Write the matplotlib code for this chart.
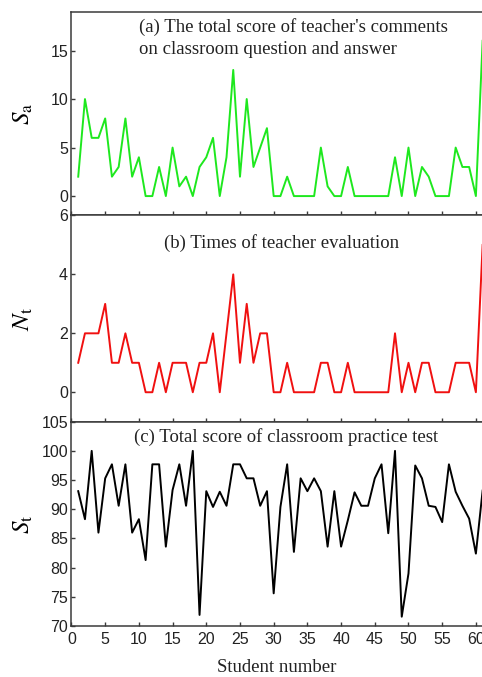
import matplotlib
matplotlib.use("Agg")
import matplotlib.pyplot as plt
import numpy as np

# student index 1..61
students = np.arange(1, 62)

# (a) total score of teacher's comments
score_comments = [2, 10, 6, 6, 8, 2, 3, 8, 2, 4,
                  0, 0, 3, 0, 5, 1, 2, 0, 3, 4,
                  6, 0, 4, 13, 2, 10, 3, 5, 7, 0,
                  0, 2, 0, 0, 0, 0, 5, 1, 0, 0,
                  3, 0, 0, 0, 0, 0, 0, 4, 0, 5,
                  0, 3, 2, 0, 0, 0, 5, 3, 3, 0,
                  16]

# (b) times of teacher evaluation
times_eval = [1, 2, 2, 2, 3, 1, 1, 2, 1, 1,
              0, 0, 1, 0, 1, 1, 1, 0, 1, 1,
              2, 0, 2, 4, 1, 3, 1, 2, 2, 0,
              0, 1, 0, 0, 0, 0, 1, 1, 0, 0,
              1, 0, 0, 0, 0, 0, 0, 2, 0, 1,
              0, 1, 1, 0, 0, 0, 1, 1, 1, 0,
              5]

# (c) total score of classroom practice test
test_score = [93.1, 88.3, 100, 86.0, 95.3, 97.7, 90.6, 97.7, 86.0, 88.3,
              81.3, 97.7, 97.7, 83.6, 93.3, 97.7, 90.6, 100, 71.9, 93.1,
              90.4, 93.0, 90.6, 97.7, 97.7, 95.3, 95.3, 90.6, 93.1, 75.6,
              90.4, 97.7, 82.7, 95.3, 93.1, 95.3, 93.1, 83.6, 93.1, 83.6,
              88.1, 92.9, 90.6, 90.6, 95.3, 97.7, 85.9, 100, 71.6, 79.0,
              97.5, 95.3, 90.6, 90.4, 87.8, 97.7, 93.0, 90.6, 88.4, 82.4,
              93.2]

plt.rcParams['mathtext.fontset'] = 'stix'
serif = 'Liberation Serif'
sans = 'Liberation Sans'

fig = plt.figure(figsize=(4.82, 6.77), dpi=100)
left, width = 0.1483, 0.8530
ax_a = fig.add_axes([left, 0.6817, width, 0.3010])
ax_b = fig.add_axes([left, 0.3771, width, 0.3046])
ax_c = fig.add_axes([left, 0.0753, width, 0.3018])

ax_a.plot(students, score_comments, color='#1ee81e', lw=1.4)
ax_b.plot(students, times_eval, color='#f01010', lw=1.4)
ax_c.plot(students, test_score, color='black', lw=1.4)

ax_a.set_ylim(-2, 19)
ax_a.set_yticks([0, 5, 10, 15])
ax_b.set_ylim(-1, 6)
ax_b.set_yticks([0, 2, 4, 6])
ax_c.set_ylim(70, 105)
ax_c.set_yticks(np.arange(70, 106, 5))

for ax in (ax_a, ax_b, ax_c):
    ax.set_xlim(0, 61)
    ax.set_xticks(np.arange(0, 61, 5))
    ax.spines['right'].set_visible(False)
    for s in ('left', 'top', 'bottom'):
        ax.spines[s].set_color('#3a3a3a')
        ax.spines[s].set_linewidth(1.1)
    ax.tick_params(direction='in', length=3, width=1, color='#3a3a3a',
                   labelsize=11.5)
    ax.tick_params(axis='y', pad=2.5)
    ax.tick_params(axis='x', pad=4)
    for lab in ax.get_xticklabels() + ax.get_yticklabels():
        lab.set_fontfamily(sans)
        lab.set_color('#222222')

for ax in (ax_a, ax_b):
    ax.tick_params(axis='x', labelbottom=False)

ax_a.set_ylabel(r'$S_\mathrm{a}$', fontsize=18)
ax_b.set_ylabel(r'$N_\mathrm{t}$', fontsize=18)
ax_c.set_ylabel(r'$S_\mathrm{t}$', fontsize=18)
for ax in (ax_a, ax_b, ax_c):
    ax.yaxis.set_label_coords(-0.088, 0.5)

ax_c.set_xlabel('Student number', fontsize=13.5, family=serif, color='#222222', labelpad=9)

ax_a.text(0.164, 0.871, "(a) The total score of teacher's comments\non classroom question and answer",
          transform=ax_a.transAxes, ha='left', va='center', fontsize=13.5,
          family=serif, color='#222222', linespacing=1.4)
ax_b.text(0.512, 0.867, "(b) Times of teacher evaluation",
          transform=ax_b.transAxes, ha='center', va='center', fontsize=13.5,
          family=serif, color='#222222')
ax_c.text(0.522, 0.925, "(c) Total score of classroom practice test",
          transform=ax_c.transAxes, ha='center', va='center', fontsize=13.5,
          family=serif, color='#222222')

fig.savefig('out.png', dpi=100)
